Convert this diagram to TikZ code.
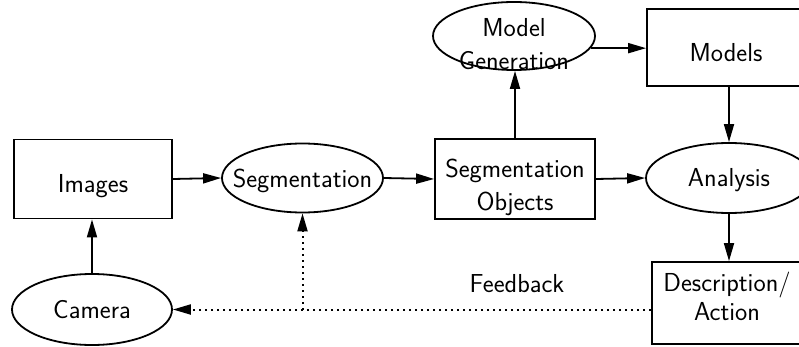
\documentclass[tikz,border=0pt]{standalone}
\usetikzlibrary{shapes.geometric,arrows.meta,calc}
\begin{document}
\begin{tikzpicture}[x=1pt,y=-1pt,
  every node/.style={font=\sffamily\fontsize{26}{31}\selectfont},
  every label/.style={inner sep=0pt},
  txt/.style={yshift=#1},
  boxnode/.style={draw,line width=1.8pt,rectangle,inner sep=0pt},
  ellnode/.style={draw,line width=1.8pt,ellipse,inner sep=0pt},
  arr/.style={line width=1.8pt,-{Triangle[length=18pt,width=10pt]}},
  dotarr/.style={line width=2pt,dash pattern=on 2pt off 4pt,-{Triangle[length=18pt,width=10pt]}}]
\useasboundingbox (0,0) rectangle (799,347);
\node[boxnode,minimum width=158pt,minimum height=79pt,
  label={[txt=-7.5pt]center:Images}] (images) at (93,179) {};
\node[ellnode,minimum width=160pt,minimum height=71pt,
  label={[txt=-0.5pt]center:Camera}] (camera) at (92,309.5) {};
\node[ellnode,minimum width=161pt,minimum height=69pt,
  label={[txt=-2.5pt]center:Segmentation}] (seg) at (302.5,178) {};
\node[boxnode,minimum width=160pt,minimum height=80pt,
  label={[txt=8.5pt]center:Segmentation},
  label={[txt=-25.2pt]center:Objects}] (segobj) at (515,179) {};
\node[ellnode,minimum width=162pt,minimum height=68pt,
  label={[txt=8pt]center:Model},
  label={[txt=-24.5pt]center:Generation}] (modelgen) at (514,36) {};
\node[boxnode,minimum width=158pt,minimum height=77pt,
  label={[txt=-5.5pt]center:Models}] (models) at (726,47.5) {};
\node[ellnode,minimum width=166pt,minimum height=70pt,
  label={[txt=-2.5pt]center:Analysis}] (analysis) at (729,178) {};
\node[boxnode,minimum width=150pt,minimum height=82pt,
  label={[txt=18pt]center:Description/},
  label={[txt=-9pt]center:Action}] (desc) at (727,303) {};
\node[anchor=base] (fbtext) at (517,292) {Feedback};
\draw[arr] (images.east) -- (seg.west);
\draw[arr] (seg.east) -- (segobj.west);
\draw[arr] (segobj.east) -- (analysis.west);
\draw[arr] (segobj.north) -- (segobj.north |- modelgen.south);
\draw[arr] (modelgen.-9) -- (modelgen.-9 -| models.west);
\draw[arr] (analysis.north |- models.south) -- (analysis.north);
\draw[arr] (analysis.south) -- (analysis.south |- desc.north);
\draw[arr] (camera.north) -- (camera.north |- images.south);
\coordinate (fb) at (seg.south |- camera.east);
\draw[dotarr] (desc.west |- camera.east) -- (camera.east);
\draw[dotarr] (fb) -- (seg.south);
\end{tikzpicture}
\end{document}
